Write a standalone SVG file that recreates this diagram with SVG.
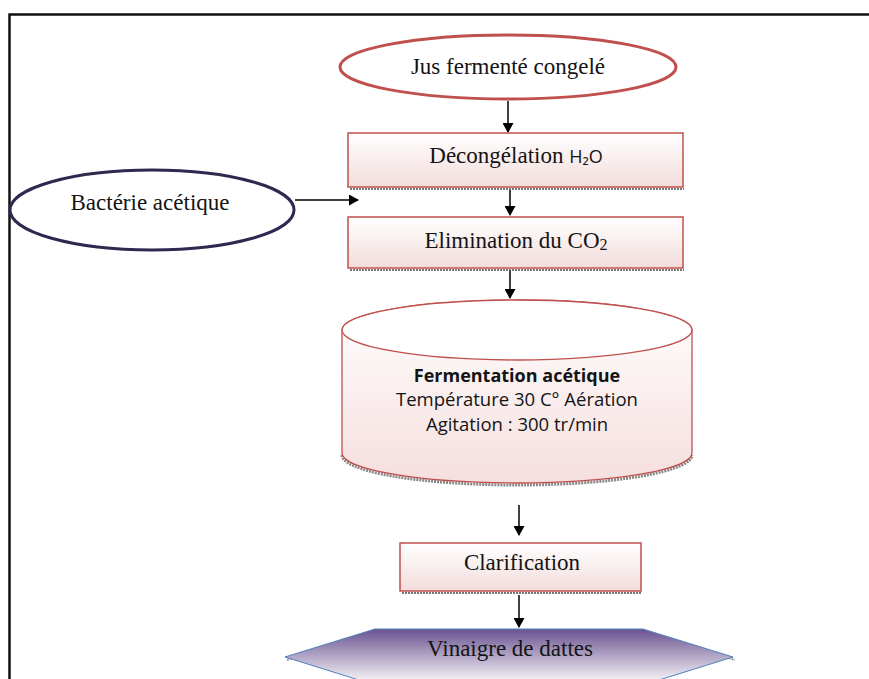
<svg xmlns="http://www.w3.org/2000/svg" width="869" height="679" viewBox="0 0 869 679">
<defs>
<linearGradient id="gPink" x1="0" y1="0" x2="0" y2="1">
<stop offset="0" stop-color="#ffffff"/>
<stop offset="1" stop-color="#f2dcdb"/>
</linearGradient>
<linearGradient id="gCyl" x1="0" y1="0" x2="0" y2="1">
<stop offset="0" stop-color="#ffffff"/>
<stop offset="1" stop-color="#f6dede"/>
</linearGradient>
<linearGradient id="gHex" x1="0" y1="0" x2="0" y2="1">
<stop offset="0" stop-color="#6a5290"/>
<stop offset="1" stop-color="#ffffff"/>
</linearGradient>
<marker id="arr" markerWidth="10" markerHeight="11" refX="9" refY="5.5" orient="auto" markerUnits="userSpaceOnUse">
<path d="M0,0 L10,5.5 L0,11 z" fill="#000"/>
</marker>
</defs>
<style>
.serif{font-family:"Liberation Serif","Times New Roman",serif;fill:#141414;font-size:23px}
.sans{font-family:"Open Sans","Liberation Sans",sans-serif;fill:#141414}
.box{fill:url(#gPink);stroke:#c0504d;stroke-width:1.5}
.shadow{stroke:#555;stroke-width:2;stroke-dasharray:2 1;fill:none;opacity:0.8}
.conn{stroke:#000;stroke-width:1.5;fill:none;marker-end:url(#arr)}
</style>
<rect width="869" height="679" fill="#fff"/>
<g id="frame">
<path d="M9.5,679 L9.5,14.5 L869,14.5" fill="none" stroke="#111" stroke-width="2.5"/>
</g>
<g id="connectors">
<line class="conn" x1="508" y1="101" x2="508" y2="132"/>
<line class="conn" x1="510" y1="190" x2="510" y2="215"/>
<line class="conn" x1="295" y1="200" x2="358" y2="200"/>
<line class="conn" x1="510" y1="270" x2="510" y2="298"/>
<line class="conn" x1="519" y1="505" x2="519" y2="535"/>
<line class="conn" x1="519" y1="595" x2="519" y2="627"/>
</g>
<g id="n-jus">
<ellipse cx="508" cy="67" rx="168" ry="32" fill="#fff" stroke="#c0504d" stroke-width="3"/>
<text class="serif" x="508" y="74" text-anchor="middle">Jus fermenté congelé</text>
</g>
<g id="n-decong">
<line class="shadow" x1="350" y1="189" x2="684" y2="189"/>
<rect class="box" x="348" y="133" width="335" height="54"/>
<text class="serif" x="516" y="163" text-anchor="middle">Décongélation <tspan font-size="18" style="font-family:'Open Sans','Liberation Sans',sans-serif">H₂O</tspan></text>
</g>
<g id="n-bact">
<ellipse cx="152" cy="210" rx="142" ry="40" fill="#fff" stroke="#2e2a4f" stroke-width="3"/>
<text class="serif" x="150" y="210" text-anchor="middle">Bactérie acétique</text>
</g>
<g id="n-elim">
<line class="shadow" x1="350" y1="270" x2="684" y2="270"/>
<rect class="box" x="348" y="217" width="335" height="51"/>
<text class="serif" x="516" y="248" text-anchor="middle">Elimination du CO<tspan font-size="16" dy="2">2</tspan></text>
</g>
<g id="n-ferm">
<path d="M342,455 A175,30 0 0 0 692,455" fill="none" stroke="#555" stroke-width="3" stroke-dasharray="2 1" opacity="0.7"/>
<path d="M342,330 L342,453 A175,30 0 0 0 692,453 L692,330 A175,30 0 0 0 342,330 z" fill="url(#gCyl)" stroke="#c0504d" stroke-width="1.3"/>
<ellipse cx="517" cy="330" rx="175" ry="30" fill="#fff" stroke="#c0504d" stroke-width="1.3"/>
<text class="sans" x="517" y="382" font-size="18" font-weight="bold" text-anchor="middle">Fermentation acétique</text>
<text class="sans" x="517" y="406" font-size="18.5" text-anchor="middle">Température 30 C° Aération</text>
<text class="sans" x="517" y="431" font-size="18.5" text-anchor="middle">Agitation : 300 tr/min</text>
</g>
<g id="n-clar">
<line class="shadow" x1="402" y1="593" x2="642" y2="593"/>
<rect class="box" x="400" y="543" width="241" height="48"/>
<text class="serif" x="522" y="570" text-anchor="middle">Clarification</text>
</g>
<g id="n-vin">
<path d="M287,660 L377,632 L645,632 L735,660" fill="none" stroke="#666" stroke-width="2" stroke-dasharray="2 1" opacity="0.7"/>
<path d="M285,657 L375,629 L643,629 L733,657 L643,685 L375,685 z" fill="url(#gHex)" stroke="#4f81bd" stroke-width="1"/>
<text class="serif" x="510" y="656" font-size="23.5" text-anchor="middle">Vinaigre de dattes</text>
</g>
</svg>
